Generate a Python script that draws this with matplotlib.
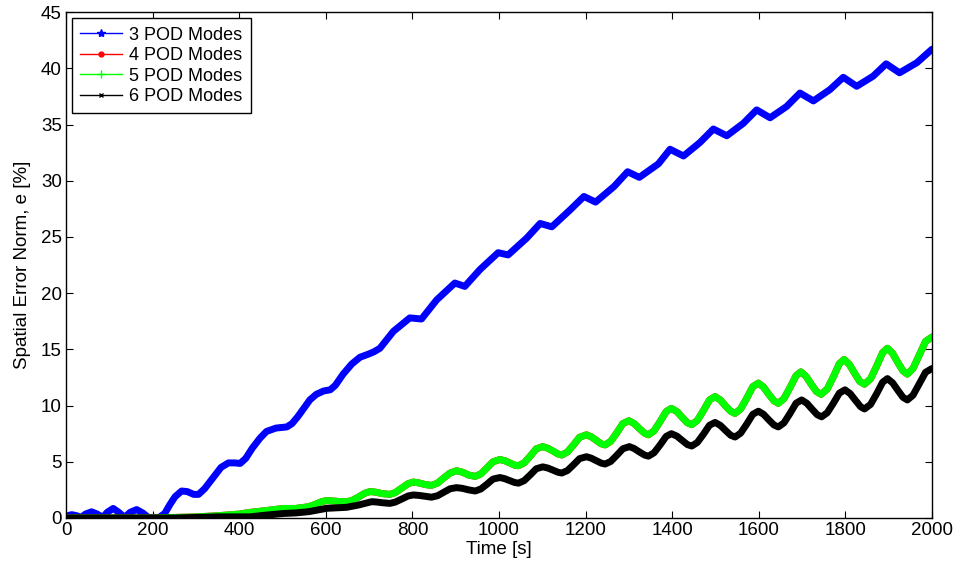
import matplotlib
matplotlib.use('Agg')
from matplotlib import pyplot as plt
from matplotlib.lines import Line2D

plt.rcParams['font.family'] = ['Liberation Sans', 'DejaVu Sans']

# 3 POD modes
t3 = [0, 13, 25, 35, 45, 59, 72, 85, 95, 109, 122, 135, 148, 163, 177, 190, 215,
      228, 240, 252, 267, 280, 295, 306, 320, 340, 358, 375, 390, 402, 415, 430,
      448, 463, 485, 510, 522, 535, 550, 563, 578, 595, 610, 622, 640, 660, 679,
      700, 712, 725, 756, 794, 821, 856, 898, 921, 956, 998, 1021, 1064, 1095,
      1122, 1164, 1196, 1223, 1266, 1297, 1324, 1368, 1395, 1426, 1464, 1495,
      1526, 1564, 1595, 1626, 1664, 1695, 1726, 1764, 1795, 1826, 1864, 1894,
      1925, 1965, 2000]
e3 = [0.15, 0.3, 0.2, 0.05, 0.35, 0.55, 0.35, 0.05, 0.5, 0.85, 0.5, 0.05, 0.5,
      0.75, 0.45, 0.05, 0.05, 0.4, 1.2, 1.9, 2.4, 2.35, 2.1, 2.1, 2.6, 3.6, 4.5,
      4.9, 4.9, 4.85, 5.3, 6.2, 7.1, 7.7, 8.0, 8.1, 8.4, 9.0, 9.8, 10.5, 11.0,
      11.3, 11.4, 11.8, 12.8, 13.7, 14.3, 14.6, 14.8, 15.1, 16.6, 17.8, 17.7,
      19.4, 20.9, 20.6, 22.1, 23.6, 23.4, 24.9, 26.2, 25.9, 27.4, 28.6, 28.1,
      29.5, 30.8, 30.3, 31.5, 32.8, 32.2, 33.4, 34.6, 34.0, 35.1, 36.3, 35.6,
      36.6, 37.8, 37.1, 38.1, 39.2, 38.4, 39.3, 40.4, 39.6, 40.5, 41.7]

# 5 POD modes (4 POD modes lies underneath it)
t5 = [0, 200, 250, 300, 350, 400, 425, 460, 502, 530, 560, 575, 590, 602, 615,
      630, 648, 660, 675, 690, 702, 715, 730, 748, 760, 775, 790, 802, 815, 830,
      844, 858, 872, 887, 902, 915, 930, 945, 958, 972, 986, 1002, 1013, 1025,
      1036, 1045, 1058, 1072, 1086, 1101, 1113, 1125, 1136, 1145, 1158, 1172,
      1186, 1202, 1213, 1225, 1236, 1245, 1258, 1272, 1286, 1300, 1312, 1324,
      1336, 1345, 1358, 1372, 1386, 1398, 1411, 1423, 1435, 1445, 1458, 1472,
      1486, 1499, 1511, 1523, 1535, 1545, 1558, 1572, 1586, 1599, 1611, 1623,
      1635, 1645, 1658, 1672, 1686, 1697, 1709, 1721, 1733, 1744, 1758, 1772,
      1786, 1797, 1809, 1821, 1833, 1844, 1858, 1872, 1886, 1897, 1909, 1921,
      1933, 1943, 1956, 1970, 1985, 2000]
e5 = [0.0, 0.0, 0.05, 0.1, 0.2, 0.35, 0.5, 0.65, 0.85, 0.85, 1.0, 1.2, 1.45,
      1.55, 1.52, 1.47, 1.45, 1.55, 1.85, 2.2, 2.35, 2.3, 2.17, 2.1, 2.25, 2.65,
      3.05, 3.2, 3.12, 2.97, 2.9, 3.1, 3.55, 4.0, 4.2, 4.08, 3.82, 3.7, 3.92,
      4.45, 5.0, 5.2, 5.1, 4.9, 4.7, 4.65, 4.9, 5.5, 6.15, 6.35, 6.2, 5.95, 5.7,
      5.6, 5.87, 6.5, 7.18, 7.4, 7.22, 6.9, 6.6, 6.5, 6.82, 7.58, 8.4, 8.65, 8.4,
      7.96, 7.55, 7.4, 7.75, 8.58, 9.47, 9.75, 9.46, 8.95, 8.47, 8.3, 8.68, 9.55,
      10.5, 10.8, 10.5, 9.97, 9.5, 9.3, 9.7, 10.65, 11.68, 12.0, 11.64, 11.0,
      10.42, 10.2, 10.62, 11.6, 12.66, 13.0, 12.6, 11.9, 11.25, 11.0, 11.47,
      12.55, 13.73, 14.1, 13.66, 12.89, 12.15, 11.9, 12.38, 13.5, 14.72, 15.1,
      14.64, 13.83, 13.08, 12.8, 13.3, 14.45, 15.7, 16.1]
t4 = t5
e4 = e5

# 6 POD modes
t6 = [0, 250, 300, 350, 400, 425, 460, 502, 530, 560, 602, 648, 675, 706, 718,
      730, 748, 760, 775, 790, 802, 815, 830, 844, 858, 872, 887, 902, 915, 930,
      945, 958, 972, 986, 1002, 1013, 1025, 1036, 1045, 1058, 1072, 1086, 1101,
      1113, 1125, 1136, 1145, 1158, 1172, 1186, 1202, 1213, 1225, 1236, 1245,
      1258, 1272, 1286, 1301, 1312, 1324, 1336, 1345, 1358, 1372, 1386, 1398,
      1411, 1423, 1435, 1445, 1458, 1472, 1486, 1499, 1511, 1523, 1535, 1545,
      1558, 1572, 1586, 1599, 1611, 1623, 1635, 1645, 1658, 1672, 1686, 1699,
      1711, 1723, 1735, 1745, 1758, 1772, 1786, 1799, 1811, 1823, 1835, 1844,
      1858, 1872, 1886, 1897, 1909, 1921, 1933, 1943, 1956, 1970, 1985, 2000]
e6 = [0.0, 0.0, 0.05, 0.1, 0.1, 0.1, 0.25, 0.4, 0.45, 0.56, 0.86, 0.95, 1.15,
      1.45, 1.42, 1.36, 1.3, 1.41, 1.68, 1.96, 2.05, 2.01, 1.93, 1.85, 1.98,
      2.28, 2.6, 2.7, 2.64, 2.5, 2.4, 2.58, 3.0, 3.46, 3.6, 3.5, 3.32, 3.16, 3.1,
      3.32, 3.83, 4.38, 4.55, 4.44, 4.25, 4.07, 4.0, 4.22, 4.73, 5.28, 5.45,
      5.32, 5.09, 4.88, 4.8, 5.03, 5.58, 6.16, 6.35, 6.18, 5.88, 5.6, 5.5, 5.8,
      6.5, 7.26, 7.5, 7.28, 6.9, 6.53, 6.4, 6.72, 7.45, 8.25, 8.5, 8.24, 7.79,
      7.36, 7.2, 7.55, 8.35, 9.22, 9.5, 9.22, 8.73, 8.27, 8.1, 8.46, 9.3, 10.21,
      10.5, 10.2, 9.68, 9.18, 9.0, 9.36, 10.2, 11.11, 11.4, 11.06, 10.47, 9.9,
      9.7, 10.1, 11.05, 12.08, 12.4, 12.02, 11.36, 10.73, 10.5, 10.92, 11.9,
      12.96, 13.3]

fig = plt.figure(figsize=(9.58, 5.76), dpi=100)
ax = fig.add_axes([0.0689, 0.1007, 0.904, 0.8783])

lw = 5
style = dict(lw=lw, solid_joinstyle='round', solid_capstyle='round')
ax.plot(t3, e3, color='#0000ff', **style)
ax.plot(t4, e4, color='#ff0000', **style)
ax.plot(t5, e5, color='#00ff00', **style)
ax.plot(t6, e6, color='#000000', **style)

ax.set_xlim(0, 2000)
ax.set_ylim(0, 45)
ax.set_xticks(range(0, 2001, 200))
ax.set_yticks(range(0, 46, 5))
ax.tick_params(direction='in', top=True, right=True, length=5, width=0.8,
               labelsize=13.5, pad=3)
for s in ax.spines.values():
    s.set_linewidth(1.0)

ax.set_xlabel('Time [s]', fontsize=13.5, labelpad=1)
ax.set_ylabel('Spatial Error Norm, e [%]', fontsize=13.5, labelpad=7)

handles = [
    Line2D([], [], color='#0000ff', lw=1, marker='*', ms=6),
    Line2D([], [], color='#ff0000', lw=1, marker='.', ms=7),
    Line2D([], [], color='#00ff00', lw=1, marker='+', ms=6),
    Line2D([], [], color='#000000', lw=1, marker='x', ms=3.5),
]
labels = ['3 POD Modes', '4 POD Modes', '5 POD Modes', '6 POD Modes']
leg = ax.legend(handles, labels, loc='upper left', fontsize=13, fancybox=False,
                framealpha=1, edgecolor='black', borderpad=0.45, labelspacing=0.2,
                handlelength=2.3, handletextpad=0.4, borderaxespad=0.35)
leg.get_frame().set_linewidth(1.0)

fig.savefig('out.png', dpi=100)
